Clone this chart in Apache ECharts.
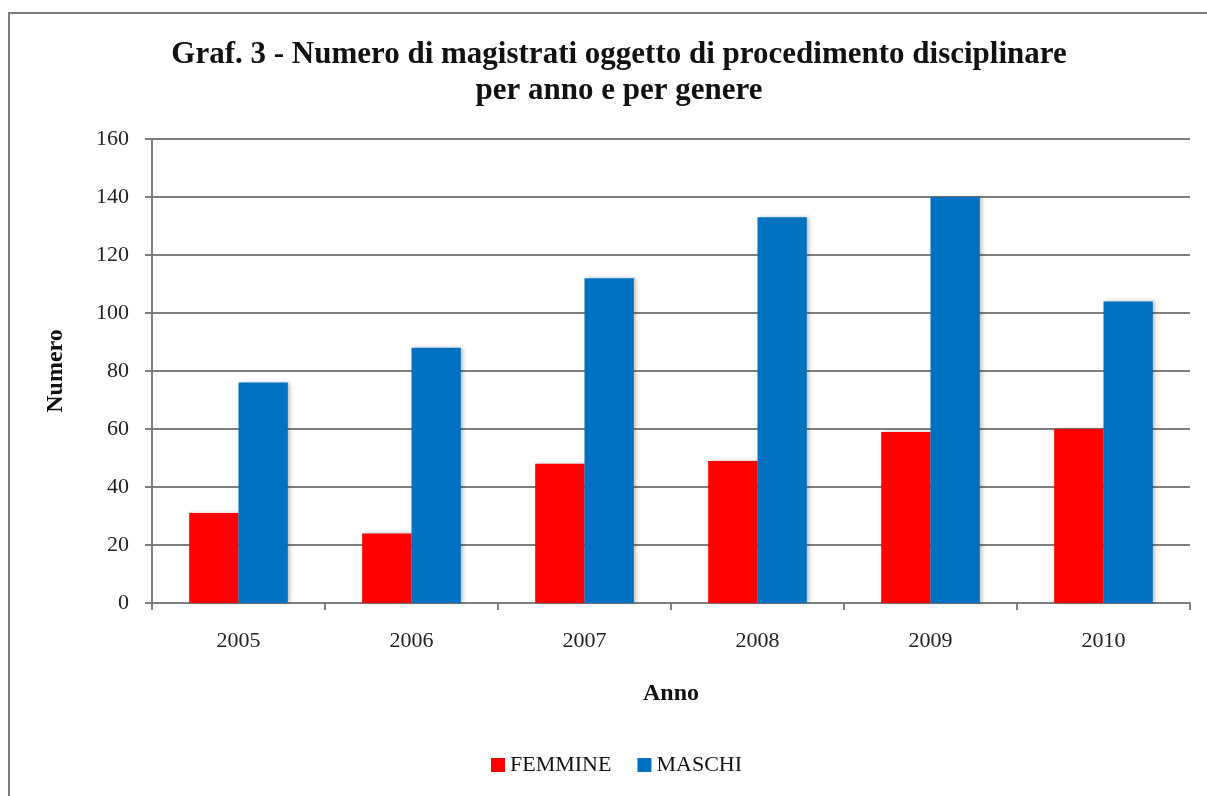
<!DOCTYPE html>
<html>
<head>
<meta charset="utf-8">
<script src="https://cdn.jsdelivr.net/npm/echarts@6/dist/echarts.min.js"></script>
<style>
  html, body { margin: 0; padding: 0; background: #fff; }
  #main { width: 1207px; height: 796px; }
</style>
</head>
<body>
<div id="main"></div>
<script>
var years = ['2005', '2006', '2007', '2008', '2009', '2010'];
var femmine = [31, 24, 48, 49, 59, 60];
var maschi = [76, 88, 112, 133, 140, 104];
var yTicks = [0, 20, 40, 60, 80, 100, 120, 140, 160];

var serif = '"Liberation Serif", "DejaVu Serif", serif';
var gray = '#7f7f7f';

var chartDom = document.getElementById('main');
var myChart = echarts.init(chartDom);

var option = {
  backgroundColor: '#fff',
  animation: false,
  textStyle: { fontFamily: serif },
  title: {
    text: 'Graf. 3 - Numero di magistrati oggetto di procedimento disciplinare\nper anno e per genere',
    left: 614,
    top: 32,
    textAlign: 'center',
    textStyle: {
      fontFamily: serif,
      fontSize: 31,
      fontWeight: 'bold',
      color: '#111',
      lineHeight: 36
    }
  },
  graphic: [{
    type: 'rect',
    silent: true,
    shape: { x: 9, y: 13, width: 1400, height: 1000 },
    style: { fill: 'none', stroke: '#7a7a7a', lineWidth: 2 }
  }],
  legend: {
    data: ['FEMMINE', 'MASCHI'],
    left: 486,
    top: 749,
    itemWidth: 14,
    itemHeight: 14,
    itemGap: 26,
    icon: 'rect',
    textStyle: { fontFamily: serif, fontSize: 22, color: '#111' }
  },
  grid: {
    left: 152,
    right: 17,
    top: 139,
    bottom: 193
  },
  xAxis: {
    type: 'category',
    data: years,
    name: 'Anno',
    nameLocation: 'middle',
    nameGap: 79,
    nameTextStyle: { fontFamily: serif, fontSize: 24, fontWeight: 'bold', color: '#111' },
    axisLine: { lineStyle: { color: gray, width: 2 } },
    axisTick: { show: true, length: 7, lineStyle: { color: gray, width: 2 } },
    axisLabel: { fontFamily: serif, fontSize: 22, color: '#222', margin: 27 }
  },
  yAxis: {
    type: 'value',
    min: yTicks[0],
    max: yTicks[yTicks.length - 1],
    interval: 20,
    name: 'Numero',
    nameLocation: 'middle',
    nameGap: 84,
    nameRotate: 90,
    nameTextStyle: { fontFamily: serif, fontSize: 24, fontWeight: 'bold', color: '#111' },
    axisLine: { show: true, lineStyle: { color: gray, width: 2 } },
    axisTick: { show: true, length: 7, lineStyle: { color: gray, width: 2 } },
    axisLabel: { fontFamily: serif, fontSize: 22, color: '#222', margin: 23 },
    splitLine: { lineStyle: { color: gray, width: 2 } }
  },
  series: [
    {
      name: 'FEMMINE',
      type: 'bar',
      data: femmine,
      barGap: '0%',
      barCategoryGap: '43%',
      itemStyle: { color: '#ff0000', shadowColor: 'rgba(0,0,0,0.25)', shadowBlur: 4, shadowOffsetX: 2 }
    },
    {
      name: 'MASCHI',
      type: 'bar',
      data: maschi,
      barGap: '0%',
      barCategoryGap: '43%',
      itemStyle: { color: '#0070c0', shadowColor: 'rgba(0,0,0,0.25)', shadowBlur: 4, shadowOffsetX: 2 }
    }
  ]
};

option && myChart.setOption(option);
</script>
</body>
</html>
